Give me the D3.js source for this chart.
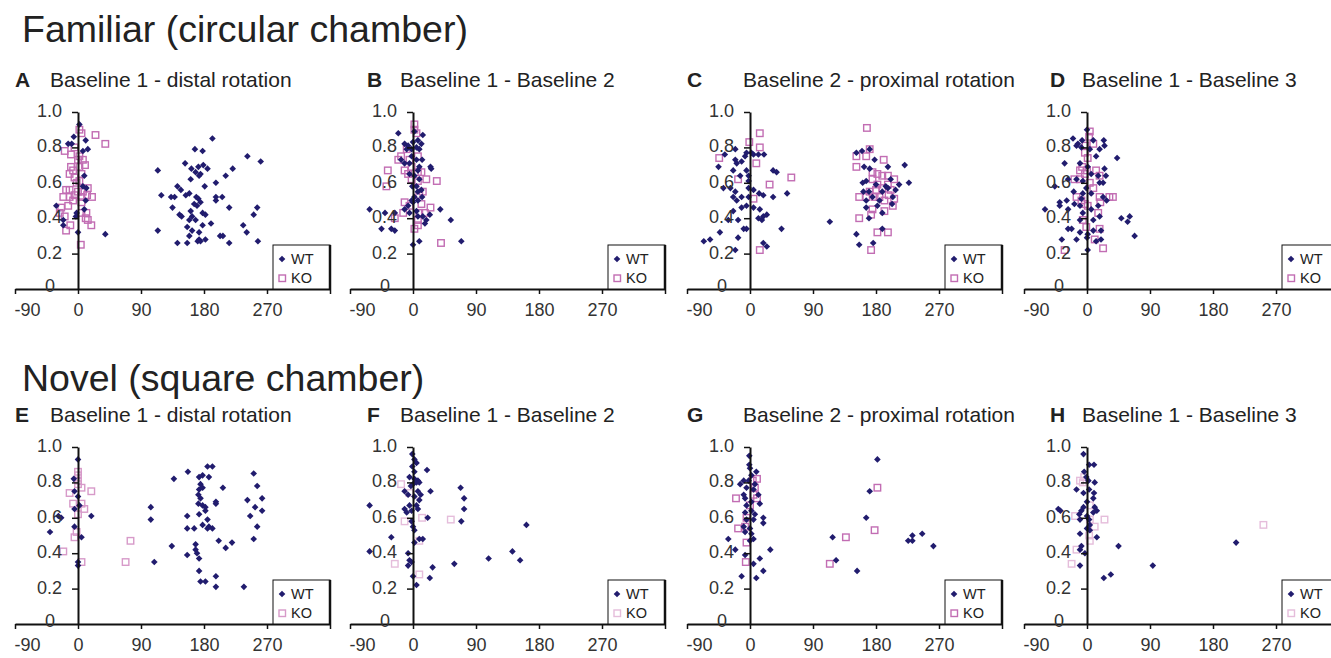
<!DOCTYPE html>
<html>
<head>
<meta charset="utf-8">
<script src="https://cdn.jsdelivr.net/npm/d3@7"></script>
<style>
  html, body { margin: 0; padding: 0; background: #fff; }
  svg { display: block; font-family: "Liberation Sans", Arial, sans-serif; }
</style>
</head>
<body>
<svg id="chart" width="1331" height="658"></svg>
<script>
// Rotation angle (deg) vs. correlation for each place cell, WT and KO mice.
// Each point: [angle, correlation]

const wtA = [[2,0.93],[-6,0.86],[-14,0.82],[-9,0.82],[11,0.84],[14,0.79],[7,0.78],[9,0.64],[7,0.58],[12,0.57],[11,0.50],[9,0.45],[-31,0.47],[-21,0.39],[-21,0.36],[-2,0.43],[0,0.32],[39,0.31],[-3,0.41],
  [192,0.85],[167,0.79],[178,0.78],[153,0.71],[242,0.75],[261,0.72],[162,0.68],[172,0.69],[179,0.70],[185,0.68],[168,0.66],[175,0.65],[161,0.62],[173,0.64],[221,0.68],
  [114,0.67],[211,0.64],[197,0.60],[181,0.58],[142,0.58],[119,0.53],[133,0.52],[138,0.52],[147,0.56],[154,0.53],[159,0.54],[169,0.52],[172,0.51],[175,0.49],[170,0.47],[166,0.48],
  [197,0.52],[206,0.52],[197,0.50],[216,0.46],[256,0.46],[135,0.46],[145,0.42],[148,0.41],[161,0.44],[163,0.41],[178,0.43],[182,0.42],
  [159,0.39],[168,0.39],[178,0.36],[190,0.37],[251,0.42],[236,0.36],[241,0.32],[114,0.33],[156,0.35],[159,0.30],[163,0.33],[173,0.32],[173,0.28],[182,0.28],
  [203,0.30],[207,0.30],[142,0.26],[156,0.26],[171,0.27],[175,0.27],[216,0.26],[257,0.27]];
const koA = [[2,0.90],[5,0.88],[25,0.87],[39,0.82],[-19,0.78],[-10,0.76],[-5,0.80],[2,0.75],[7,0.73],[0,0.73],[-10,0.69],[-7,0.67],[2,0.69],[10,0.70],
  [-12,0.65],[-5,0.63],[5,0.65],[2,0.61],[-2,0.60],[7,0.55],[0,0.55],[-12,0.56],[-17,0.56],[14,0.57],[-12,0.52],[-21,0.52],[-5,0.53],[5,0.52],[13,0.53],[20,0.52],
  [-7,0.50],[5,0.49],[-14,0.47],[-24,0.46],[5,0.43],[12,0.43],[-26,0.43],[-19,0.41],[11,0.40],[14,0.39],[19,0.36],[-11,0.36],[-17,0.33],[4,0.25]];

const wtB = [[-21,0.88],[14,0.87],[2,0.89],[-12,0.82],[-7,0.81],[-9,0.79],[0,0.83],[7,0.84],[12,0.82],[9,0.79],[-17,0.73],[-12,0.71],[-2,0.75],[5,0.73],[13,0.73],
  [25,0.69],[26,0.68],[7,0.67],[2,0.64],[-5,0.65],[9,0.62],[5,0.58],[12,0.56],[2,0.52],[13,0.52],[-2,0.50],[7,0.50],[0,0.49],[-7,0.47],[-12,0.45],[-62,0.45],[39,0.45],
  [-40,0.43],[-26,0.43],[24,0.42],[19,0.39],[17,0.37],[-45,0.34],[-31,0.34],[-26,0.33],[54,0.39],[69,0.27],[9,0.27],[0,0.25],[7,0.41],[14,0.41],
  [-2,0.79],[5,0.80],[-5,0.71],[9,0.69],[-1,0.58],[7,0.55],[-5,0.43],[5,0.44]];
const koB = [[2,0.93],[2,0.90],[5,0.88],[-36,0.67],[-38,0.58],[-9,0.79],[-21,0.73],[-17,0.75],[-5,0.73],[7,0.75],[-2,0.69],[-12,0.67],[-7,0.65],[7,0.66],[12,0.66],
  [19,0.62],[34,0.61],[-2,0.62],[7,0.61],[14,0.55],[9,0.53],[-12,0.49],[-5,0.47],[12,0.48],[25,0.46],[-26,0.40],[9,0.43],[7,0.39],[2,0.34],[7,0.36],[40,0.26],[17,0.43],[-14,0.43]];

const wtC = [[-66,0.27],[-57,0.28],[-43,0.32],[-36,0.76],[-45,0.69],[-21,0.79],[-21,0.73],[-19,0.71],[-12,0.72],[-7,0.75],[-5,0.77],[2,0.77],[5,0.76],[12,0.76],[20,0.76],
  [-5,0.67],[-2,0.64],[-14,0.64],[-24,0.67],[-2,0.61],[-38,0.57],[-28,0.57],[-21,0.55],[-2,0.57],[5,0.56],[13,0.54],[19,0.53],[-24,0.52],[-19,0.50],[-12,0.52],[-2,0.52],
  [33,0.67],[38,0.66],[33,0.52],[53,0.54],[-5,0.47],[-12,0.46],[5,0.46],[-24,0.44],[14,0.45],[19,0.41],[24,0.42],[-31,0.39],[-17,0.39],[12,0.40],[17,0.39],
  [-9,0.34],[-5,0.34],[45,0.34],[-17,0.29],[-21,0.22],[19,0.26],[24,0.24],
  [114,0.38],[152,0.31],[156,0.25],[176,0.26],[152,0.77],[160,0.78],[171,0.79],[178,0.73],[163,0.69],[171,0.68],[197,0.69],[221,0.70],[227,0.60],[213,0.59],[201,0.62],
  [194,0.58],[180,0.59],[166,0.61],[161,0.60],[162,0.55],[170,0.55],[189,0.55],[197,0.57],[208,0.56],[204,0.52],[175,0.52],[166,0.50],[185,0.50],[182,0.47],[203,0.48],
  [189,0.43],[166,0.46],[189,0.34],[170,0.40]];
const koC = [[-44,0.74],[-1,0.83],[14,0.88],[14,0.80],[9,0.71],[-17,0.62],[59,0.63],[28,0.59],[5,0.51],[14,0.22],
  [167,0.91],[171,0.79],[152,0.75],[152,0.69],[166,0.75],[191,0.73],[175,0.66],[175,0.62],[182,0.65],[189,0.64],[197,0.64],[206,0.62],[182,0.59],[197,0.59],[171,0.55],
  [180,0.56],[189,0.57],[201,0.56],[206,0.51],[198,0.53],[156,0.52],[166,0.52],[178,0.52],[185,0.52],[192,0.50],[175,0.45],[173,0.42],[192,0.44],[204,0.47],[156,0.40],
  [182,0.32],[197,0.32],[173,0.22]];

const wtD = [[0,0.90],[-20,0.85],[-13,0.82],[-7,0.84],[9,0.84],[24,0.84],[18,0.79],[25,0.81],[-15,0.81],[-8,0.80],[4,0.79],[13,0.75],[43,0.74],[-32,0.71],[-10,0.71],
  [1,0.69],[25,0.68],[27,0.64],[16,0.64],[6,0.65],[-46,0.58],[-27,0.62],[-15,0.62],[-6,0.61],[18,0.60],[23,0.60],[-1,0.57],[-19,0.55],[-6,0.54],[23,0.52],[28,0.50],
  [-8,0.51],[6,0.54],[-29,0.50],[-39,0.49],[-39,0.47],[-18,0.48],[-10,0.47],[-60,0.45],[-27,0.45],[-6,0.43],[6,0.45],[16,0.47],[18,0.41],[9,0.39],[-10,0.39],
  [49,0.40],[61,0.41],[58,0.38],[68,0.30],[-27,0.34],[-22,0.34],[-10,0.32],[1,0.31],[9,0.33],[20,0.33],[-36,0.28],[-15,0.28],[0,0.29],[13,0.27],[20,0.28],[1,0.22]];
const koD = [[4,0.89],[3,0.86],[-2,0.81],[9,0.82],[-3,0.77],[1,0.74],[-7,0.69],[-10,0.67],[0,0.67],[-3,0.65],[13,0.67],[18,0.64],[-10,0.62],[-18,0.62],[4,0.60],
  [9,0.57],[18,0.52],[32,0.52],[37,0.52],[-15,0.52],[-8,0.50],[-3,0.48],[19,0.49],[1,0.47],[16,0.43],[-6,0.39],[-1,0.35],[18,0.34],[11,0.28],[23,0.23],[-32,0.22]];

const wtE = [[0,0.93],[-6,0.82],[-5,0.75],[0,0.72],[-5,0.65],[2,0.67],[-28,0.61],[-24,0.60],[19,0.61],[-40,0.52],[-5,0.55],[5,0.49],[0,0.35],[0,0.33],
  [104,0.66],[104,0.59],[109,0.35],[137,0.82],[157,0.86],[134,0.44],[156,0.61],[156,0.54],[156,0.39],[166,0.54],[168,0.45],[168,0.42],[170,0.40],[173,0.37],
  [173,0.30],[175,0.24],[182,0.24],[197,0.27],[197,0.21],[237,0.21],[173,0.83],[178,0.84],[175,0.79],[173,0.76],[178,0.77],[172,0.73],[175,0.71],[185,0.89],
  [192,0.89],[187,0.83],[172,0.68],[178,0.67],[182,0.66],[173,0.62],[182,0.64],[185,0.59],[178,0.56],[187,0.55],[192,0.54],[185,0.54],[197,0.69],[197,0.68],
  [207,0.77],[201,0.47],[211,0.43],[220,0.46],[242,0.70],[251,0.85],[256,0.78],[263,0.71],[263,0.64],[253,0.66],[246,0.61],[256,0.55],[251,0.48]];
const koE = [[0,0.86],[0,0.84],[0,0.81],[0,0.79],[-12,0.74],[5,0.77],[19,0.75],[-7,0.68],[5,0.68],[9,0.65],[0,0.62],[-2,0.52],[-5,0.49],[-21,0.41],[5,0.35],[68,0.35],[75,0.47]];

const wtF = [[-1,0.96],[2,0.93],[5,0.91],[-1,0.89],[2,0.86],[20,0.87],[-5,0.83],[2,0.82],[7,0.81],[0,0.79],[5,0.80],[9,0.80],[-12,0.75],[-3,0.78],[7,0.75],[11,0.73],
  [25,0.75],[-7,0.73],[2,0.72],[9,0.70],[-5,0.67],[5,0.67],[-12,0.65],[-2,0.64],[-9,0.63],[-62,0.67],[7,0.65],[21,0.60],[-2,0.58],[0,0.55],[2,0.53],[-31,0.49],
  [9,0.48],[14,0.48],[2,0.46],[-62,0.41],[-7,0.40],[-5,0.36],[-7,0.33],[-2,0.35],[0,0.27],[5,0.22],[24,0.26],[28,0.32],[59,0.34],
  [68,0.77],[73,0.71],[73,0.65],[69,0.58],[108,0.37],[142,0.41],[153,0.36],[162,0.56]];
const koF = [[-17,0.79],[-12,0.58],[13,0.60],[54,0.59],[-26,0.34],[9,0.28],[-5,0.74],[9,0.47],[5,0.73]];

const wtG = [[-1,0.95],[-1,0.90],[0,0.88],[9,0.86],[2,0.84],[-9,0.81],[-2,0.81],[7,0.79],[-14,0.79],[-5,0.77],[5,0.76],[-9,0.73],[12,0.73],[-7,0.71],[2,0.69],
  [14,0.68],[-5,0.67],[2,0.64],[-7,0.63],[7,0.62],[19,0.60],[-5,0.59],[5,0.59],[19,0.57],[-9,0.55],[0,0.54],[-7,0.52],[2,0.51],[0,0.47],[-31,0.48],[5,0.48],
  [-21,0.42],[29,0.42],[-7,0.39],[14,0.37],[5,0.34],[19,0.30],[-12,0.27],[9,0.26],
  [118,0.49],[123,0.36],[153,0.30],[166,0.60],[171,0.75],[182,0.93],[226,0.47],[232,0.47],[232,0.50],[246,0.51],[262,0.44]];
const koG = [[-20,0.71],[-17,0.54],[-7,0.55],[-5,0.60],[-5,0.46],[-6,0.35],[0,0.67],[5,0.73],[7,0.77],[4,0.81],[10,0.82],[10,0.71],[137,0.49],[114,0.34],[178,0.53],[182,0.77]];

const wtH = [[-5,0.96],[-4,0.86],[3,0.90],[10,0.90],[-1,0.83],[2,0.81],[11,0.80],[-15,0.76],[-5,0.74],[3,0.76],[10,0.74],[9,0.71],[0,0.69],[-5,0.66],[11,0.66],
  [-8,0.64],[-41,0.65],[-38,0.64],[-11,0.62],[0,0.61],[14,0.64],[9,0.63],[-10,0.59],[3,0.59],[4,0.56],[4,0.53],[0,0.54],[-10,0.51],[14,0.49],[-8,0.44],[-10,0.42],
  [-3,0.40],[-10,0.33],[45,0.44],[24,0.26],[34,0.28],[94,0.33],[213,0.46]];
const koH = [[-10,0.81],[-4,0.83],[-6,0.80],[-17,0.61],[4,0.67],[4,0.59],[11,0.55],[25,0.59],[-15,0.42],[4,0.47],[3,0.50],[-22,0.34],[252,0.56]];

// Axis ticks
const xTicks = [-90, 0, 90, 180, 270, 360];
const xTickLabels = ["-90", "0", "90", "180", "270", ""];
const yTicks = [0, 0.2, 0.4, 0.6, 0.8, 1.0];
const yTickLabels = ["0", "0.2", "0.4", "0.6", "0.8", "1.0"];

const sections = ["Familiar (circular chamber)", "Novel (square chamber)"];
const panels = [
  { letter: "A", title: "Baseline 1 - distal rotation",   wt: wtA, ko: koA },
  { letter: "B", title: "Baseline 1 - Baseline 2",        wt: wtB, ko: koB },
  { letter: "C", title: "Baseline 2 - proximal rotation", wt: wtC, ko: koC },
  { letter: "D", title: "Baseline 1 - Baseline 3",        wt: wtD, ko: koD },
  { letter: "E", title: "Baseline 1 - distal rotation",   wt: wtE, ko: koE },
  { letter: "F", title: "Baseline 1 - Baseline 2",        wt: wtF, ko: koF },
  { letter: "G", title: "Baseline 2 - proximal rotation", wt: wtG, ko: koG },
  { letter: "H", title: "Baseline 1 - Baseline 3",        wt: wtH, ko: koH }
];

// ---- layout & style ----
const colX = [15, 350, 687, 1024];
const rowAxisY = [289, 624];
const letterX = [15, 367, 687, 1050];
const titleX = [50, 400, 743, 1082];
const plotW = 315, plotH = 177;
const WT_COLOR = "#211c6e";
const koColors = ["#c26db3", "#c26db3", "#c26db3", "#c26db3", "#d79ac9", "#e5bddb", "#c26db3", "#e5bddb"];
const INK = "#222";
const FONT = "Liberation Sans, Arial, sans-serif";

const svg = d3.select("#chart");

sections.forEach((s, r) => {
  svg.append("text")
    .attr("x", 22).attr("y", r === 0 ? 42 : 391)
    .attr("font-size", 37.5).attr("fill", INK)
    .text(s);
});

const diamond = d3.symbol().type(d3.symbolDiamond2).size(28);

panels.forEach((p, i) => {
  const col = i % 4, row = Math.floor(i / 4);
  const x0 = colX[col], ay = rowAxisY[row];
  const x = d3.scaleLinear().domain([-90, 360]).range([x0, x0 + plotW]);
  const y = d3.scaleLinear().domain([0, 1]).range([ay, ay - plotH]);
  const g = svg.append("g");
  const koColor = koColors[i];

  // titles
  g.append("text").attr("x", letterX[col]).attr("y", ay - 202)
    .attr("font-size", 21).attr("font-weight", "bold").attr("fill", INK).text(p.letter);
  g.append("text").attr("x", titleX[col]).attr("y", ay - 202)
    .attr("font-size", 21).attr("fill", INK).text(p.title);

  // KO: open squares
  g.append("g").selectAll("rect").data(p.ko).join("rect")
    .attr("x", d => x(d[0]) - 3.25).attr("y", d => y(d[1]) - 3.25)
    .attr("width", 6.5).attr("height", 6.5)
    .attr("fill", "none").attr("stroke", koColor).attr("stroke-width", 1.4);

  // WT: filled diamonds
  g.append("g").selectAll("path").data(p.wt).join("path")
    .attr("transform", d => `translate(${x(d[0])},${y(d[1])})`)
    .attr("d", diamond).attr("fill", WT_COLOR);

  // x axis
  const xa = g.append("g").attr("transform", `translate(0,${ay})`)
    .call(d3.axisBottom(x).tickValues(xTicks).tickSize(5).tickSizeOuter(0).tickPadding(9)
      .tickFormat((d, k) => xTickLabels[k]));
  xa.select(".domain").attr("stroke", "#111").attr("stroke-width", 2);
  xa.selectAll(".tick line").attr("stroke", "#111").attr("stroke-width", 1.5);
  xa.selectAll(".tick text").attr("font-size", 18).attr("fill", "#333").attr("font-family", FONT);
  xa.selectAll(".tick text").filter(d => d === -90).attr("text-anchor", "start").attr("x", -1);

  // y axis at angle 0 (tick labels set separately below)
  const ya = g.append("g").attr("transform", `translate(${x(0)},0)`)
    .call(d3.axisLeft(y).tickValues(yTicks.filter(v => v > 0)).tickSize(6).tickSizeOuter(0)
      .tickFormat(""));
  ya.select(".domain").attr("stroke", "#111").attr("stroke-width", 2);
  ya.selectAll(".tick line").attr("stroke", "#111").attr("stroke-width", 1.5);

  g.append("g").selectAll("text").data(yTicks).join("text")
    .attr("x", d => x(0) - (d === 0 ? 23 : 16))
    .attr("y", d => y(d) + (d === 0 ? 3 : 5))
    .attr("text-anchor", "end")
    .attr("font-size", 18).attr("fill", "#333")
    .text((d, k) => yTickLabels[k]);

  // legend
  const lx = x0 + 258, lw = 57, lh = 44;
  const lg = g.append("g");
  lg.append("rect").attr("x", lx).attr("y", ay - lh).attr("width", lw).attr("height", lh)
    .attr("fill", "#fff").attr("stroke", "#111").attr("stroke-width", 1);
  lg.append("line").attr("x1", lx + lw).attr("x2", lx + lw).attr("y1", ay - lh).attr("y2", ay)
    .attr("stroke", "#111").attr("stroke-width", 2.5);
  lg.append("path").attr("transform", `translate(${lx + 9},${ay - 30})`).attr("d", diamond).attr("fill", WT_COLOR);
  lg.append("rect").attr("x", lx + 6).attr("y", ay - 14).attr("width", 6.5).attr("height", 6.5)
    .attr("fill", "none").attr("stroke", koColor).attr("stroke-width", 1.4);
  lg.append("text").attr("x", lx + 18).attr("y", ay - 25).attr("font-size", 14.5).attr("fill", INK).text("WT");
  lg.append("text").attr("x", lx + 18).attr("y", ay - 6).attr("font-size", 14.5).attr("fill", INK).text("KO");
});
</script>
</body>
</html>
